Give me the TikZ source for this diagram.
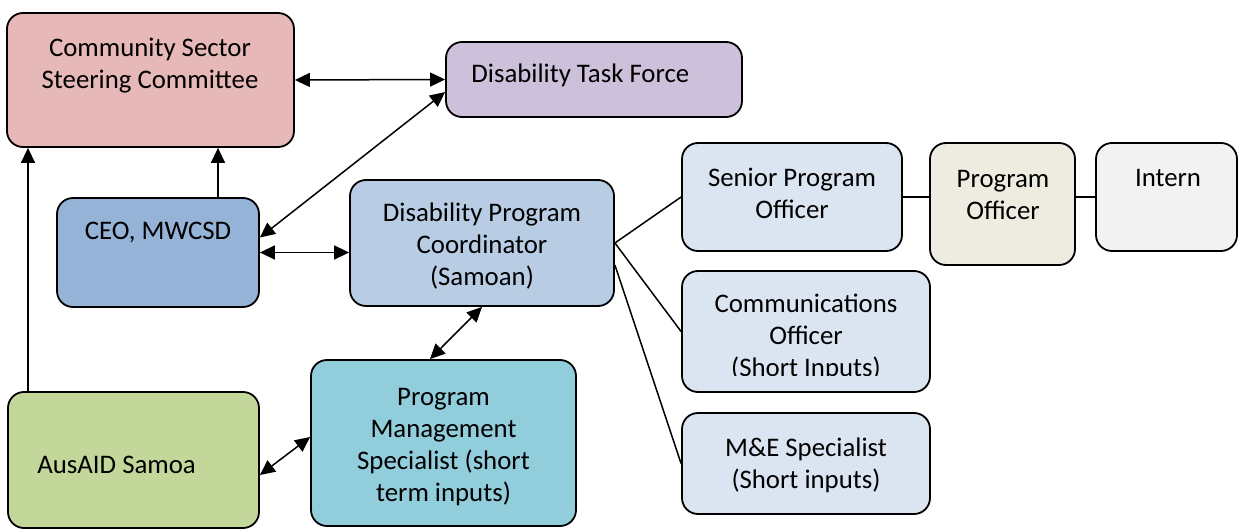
\documentclass[tikz,border=0pt]{standalone}
\usepackage{fontspec}
\setmainfont{Carlito}
\usetikzlibrary{arrows.meta}

\definecolor{steerfill}{HTML}{E6B8B7}
\definecolor{taskfill}{HTML}{CCC0DA}
\definecolor{ceofill}{HTML}{95B3D7}
\definecolor{coordfill}{HTML}{B8CCE4}
\definecolor{stafffill}{HTML}{DBE5F1}
\definecolor{officerfill}{HTML}{EEECE1}
\definecolor{internfill}{HTML}{F2F2F2}
\definecolor{ausaidfill}{HTML}{C4D79B}
\definecolor{pmsfill}{HTML}{92CDDC}

\begin{document}
\begin{tikzpicture}[x=0.5pt, y=-0.5pt,
    font=\fontsize{13.4}{16}\selectfont,
    >={Triangle[length=7.5pt, width=7pt]},
    unit/.style={draw, line width=0.9pt, rounded corners=8pt, inner sep=0pt},
    lbl/.style={inner sep=0pt, align=center}]
  \useasboundingbox (0,0) rectangle (1241,529);

  % Boxes
  \node[unit, fill=steerfill, minimum width=143.5pt, minimum height=67pt] at (150.5, 80) (cssc) {};
  \node[lbl] at (150, 65.5) (cssc-txt) {Community Sector\\Steering Committee};

  \node[unit, fill=taskfill, minimum width=148pt, minimum height=37.5pt] at (594, 79.5) (dtf) {};
  \node[lbl, anchor=west] at (471, 75.5) (dtf-txt) {Disability Task Force};

  \node[unit, fill=ceofill, minimum width=101pt, minimum height=54.5pt] at (158, 252.5) (ceo) {};
  \node[lbl] at (158, 233) (ceo-txt) {CEO, MWCSD};

  \node[unit, fill=coordfill, minimum width=132pt, minimum height=63pt] at (482, 243) (dpc) {};
  \node[lbl] at (482, 246.5) (dpc-txt) {Disability Program\\Coordinator\\(Samoan)};

  \node[unit, fill=stafffill, minimum width=110pt, minimum height=54pt] at (792, 197) (spo) {};
  \node[lbl] at (792, 193.5) (spo-txt) {Senior Program\\Officer};

  \node[unit, fill=officerfill, minimum width=72.5pt, minimum height=61pt] at (1002.5, 204) (po) {};
  \node[lbl] at (1003, 194.5) (po-txt) {Program\\Officer};

  \node[unit, fill=internfill, minimum width=70.5pt, minimum height=54pt] at (1166.5, 197) (intern) {};
  \node[lbl] at (1168, 178.5) (intern-txt) {Intern};

  \node[unit, fill=stafffill, minimum width=124pt, minimum height=60.5pt] at (806, 331.5) (comm) {};
  \begin{scope}
    \clip (comm.north west) rectangle ([yshift=8.5pt]comm.south east);
    \node[lbl] at (806, 337) (comm-txt) {Communications\\Officer\\(Short Inputs)};
  \end{scope}

  \node[unit, fill=stafffill, minimum width=124pt, minimum height=50.5pt] at (806, 463.5) (me) {};
  \node[lbl] at (806, 465) (me-txt) {M\&E Specialist\\(Short inputs)};

  \node[unit, fill=ausaidfill, minimum width=125.5pt, minimum height=68pt] at (133.5, 460) (aus) {};
  \node[lbl, anchor=west] at (37, 464.5) (aus-txt) {AusAID Samoa};

  \node[unit, fill=pmsfill, minimum width=132.5pt, minimum height=83pt] at (443.5, 443) (pms) {};
  \node[lbl] at (443.5, 447) (pms-txt) {Program\\Management\\Specialist (short\\term inputs)};

  % Connectors
  \begin{scope}[line width=0.75pt]
    \draw[<->] (cssc.east) -- (dtf.west);
    \draw[<->] ([yshift=7.5pt]ceo.east) -- ([yshift=-6.25pt]dtf.west);
    \draw[->] ([xshift=30pt]ceo.north) -- ([xshift=30pt]ceo.north |- cssc.south);
    \draw[->] ([xshift=-52.75pt]aus.north) -- ([xshift=-52.75pt]aus.north |- cssc.south);
    \draw[<->] (ceo.east) -- (ceo.east -| dpc.west);
    \draw[<->] (dpc.south) -- ([xshift=-6.75pt]pms.north);
    \draw[<->] ([yshift=-7.5pt]aus.east) -- ([yshift=3pt]pms.west);
    \draw (dpc.east) -- (spo.west);
    \draw (dpc.east) -- (comm.west);
    \draw ([yshift=-11pt]dpc.east) -- (me.west);
    \draw (spo.east) -- (spo.east -| po.west);
    \draw (po.east |- intern.west) -- (intern.west);
  \end{scope}
\end{tikzpicture}
\end{document}
